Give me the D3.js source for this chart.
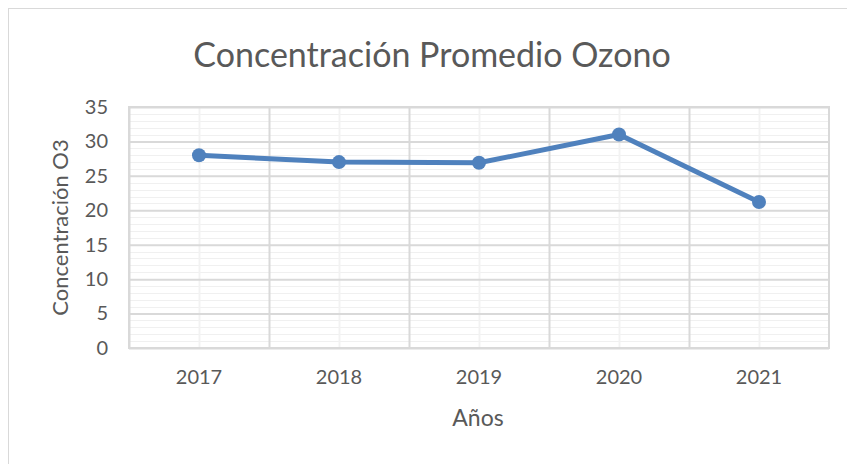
<!DOCTYPE html>
<html>
<head>
<meta charset="utf-8">
<script src="https://cdn.jsdelivr.net/npm/d3@7"></script>
<style>
  body { margin: 0; background: #fff; }
  svg { display: block; font-family: Lato, "Open Sans", sans-serif; }
</style>
</head>
<body>
<div id="chart"></div>
<script>
// chart data
var years = ["2017", "2018", "2019", "2020", "2021"];
var ozone = [28, 27, 26.9, 31, 21.2];
var yTicks = [0, 5, 10, 15, 20, 25, 30, 35];

var W = 847, H = 464;
var margin = { top: 107, right: 18, bottom: 116, left: 129 },
    width = W - margin.left - margin.right,
    height = H - margin.top - margin.bottom;

var svg = d3.select('#chart').append('svg')
    .attr('width', W)
    .attr('height', H);

// outer chart border (only top and left are visible in the crop)
svg.append('rect')
    .attr('x', 8.5).attr('y', 8.5)
    .attr('width', W + 20).attr('height', H + 20)
    .attr('fill', 'none')
    .attr('stroke', '#d9d9d9');

var x = d3.scaleBand().domain(years).range([0, width]);
var y = d3.scaleLinear().domain([0, 35]).range([height, 0]);

var g = svg.append('g')
    .attr('transform', 'translate(' + margin.left + ',' + margin.top + ')');

// minor horizontal gridlines
g.append('g')
    .selectAll('line')
    .data(d3.range(0, 36, 1).filter(function (d) { return d % 5 !== 0; }))
    .enter().append('line')
    .attr('x1', 0).attr('x2', width)
    .attr('y1', function (d) { return Math.round(y(d)) + 0.5; })
    .attr('y2', function (d) { return Math.round(y(d)) + 0.5; })
    .attr('stroke', '#f0f0f0');

// minor vertical gridlines at category centres
g.append('g')
    .selectAll('line')
    .data(years)
    .enter().append('line')
    .attr('x1', function (d) { return Math.round(x(d) + x.bandwidth() / 2) + 0.5; })
    .attr('x2', function (d) { return Math.round(x(d) + x.bandwidth() / 2) + 0.5; })
    .attr('y1', 0).attr('y2', height)
    .attr('stroke', '#f2f2f2')
    .attr('stroke-width', 2);

// major horizontal gridlines
g.append('g')
    .call(d3.axisLeft(y).tickValues(yTicks).tickSize(-width).tickFormat(''))
    .call(function (s) {
        s.select('.domain').remove();
        s.selectAll('line').attr('stroke', '#d9d9d9').attr('stroke-width', 2);
    });

// major vertical gridlines at category boundaries
g.append('g')
    .selectAll('line')
    .data(years)
    .enter().append('line')
    .attr('x1', function (d) { return Math.round(x(d)) + 0.5; })
    .attr('x2', function (d) { return Math.round(x(d)) + 0.5; })
    .attr('y1', 0).attr('y2', height)
    .attr('stroke', '#d9d9d9')
    .attr('stroke-width', 2);

// plot area outline
g.append('rect')
    .attr('x', 0).attr('y', 0)
    .attr('width', width).attr('height', height)
    .attr('fill', 'none')
    .attr('stroke', '#d9d9d9')
    .attr('stroke-width', 2);

// y axis labels
g.append('g')
    .call(d3.axisLeft(y).tickValues(yTicks).tickSize(0).tickPadding(21))
    .call(function (s) {
        s.select('.domain').remove();
        s.selectAll('text')
            .attr('fill', '#595959')
            .style('font-size', '20px')
            .style('font-family', 'Lato, "Open Sans", sans-serif');
    });

// x axis labels
g.append('g')
    .attr('transform', 'translate(0,' + height + ')')
    .call(d3.axisBottom(x).tickSize(0).tickPadding(22))
    .call(function (s) {
        s.select('.domain').remove();
        s.selectAll('text')
            .attr('fill', '#595959')
            .style('font-size', '20px')
            .style('font-family', 'Lato, "Open Sans", sans-serif');
    });

// the line
var line = d3.line()
    .x(function (d, i) { return x(years[i]) + x.bandwidth() / 2; })
    .y(function (d) { return y(d); });

g.append('path')
    .datum(ozone)
    .attr('d', line)
    .attr('fill', 'none')
    .attr('stroke', '#4f81bd')
    .attr('stroke-width', 5)
    .attr('stroke-linejoin', 'round');

g.selectAll('.dot')
    .data(ozone)
    .enter().append('circle')
    .attr('class', 'dot')
    .attr('cx', function (d, i) { return x(years[i]) + x.bandwidth() / 2; })
    .attr('cy', function (d) { return y(d); })
    .attr('r', 7)
    .attr('fill', '#4f81bd');

// title
svg.append('text')
    .attr('x', 432)
    .attr('y', 67)
    .attr('text-anchor', 'middle')
    .attr('fill', '#595959')
    .style('font-size', '34px')
    .text('Concentración Promedio Ozono');

// axis titles
svg.append('text')
    .attr('x', 478)
    .attr('y', 426)
    .attr('text-anchor', 'middle')
    .attr('fill', '#595959')
    .style('font-size', '23px')
    .text('Años');

svg.append('text')
    .attr('transform', 'translate(68,' + (margin.top + height / 2) + ') rotate(-90)')
    .attr('text-anchor', 'middle')
    .attr('fill', '#595959')
    .style('font-size', '22px')
    .text('Concentración O3');
</script>
</body>
</html>
